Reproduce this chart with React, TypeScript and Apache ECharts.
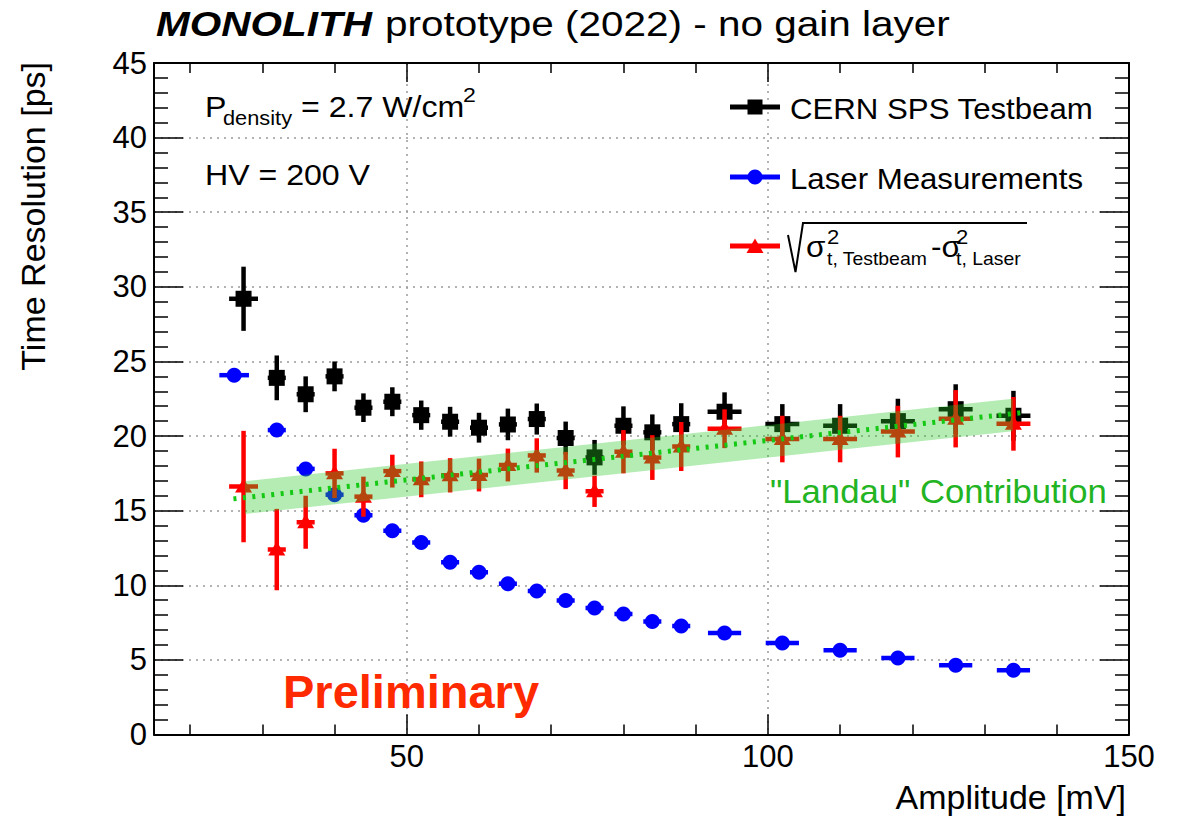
import React, { useEffect, useRef } from "react";
import * as echarts from "echarts";

const FONT = "Liberation Sans, Arial, Helvetica, sans-serif";

// CERN SPS testbeam: amplitude bin [mV], time resolution [ps] and errors
const beamAmp = [27.4, 32, 36, 40, 44, 48, 52, 56, 60, 64, 68, 72, 76, 80, 84, 88, 94, 102, 110, 118, 126, 134];
const beamAmpErr = [2.0, 1.25, 1.25, 1.25, 1.25, 1.25, 1.25, 1.25, 1.25, 1.25, 1.25, 1.25, 1.25, 1.25, 1.25, 1.25, 2.35, 2.35, 2.35, 2.35, 2.35, 2.35];
const beamRes = [29.2, 23.9, 22.8, 24.0, 21.9, 22.3, 21.4, 20.96, 20.56, 20.78, 21.14, 19.87, 18.57, 20.69, 20.25, 20.8, 21.63, 20.8, 20.69, 21.0, 21.8, 21.36];
const beamResErr = [2.15, 1.5, 1.2, 1.0, 0.96, 0.97, 0.98, 1.0, 1.0, 1.06, 1.04, 1.1, 1.17, 1.3, 1.2, 1.4, 1.3, 1.34, 1.45, 1.5, 1.67, 1.67];

// Laser measurements
const laserAmp = [26.1, 32, 36, 40, 44, 48, 52, 56, 60, 64, 68, 72, 76, 80, 84, 88, 94, 102, 110, 118, 126, 134];
const laserAmpErr = [2.05, 1.25, 1.25, 1.25, 1.25, 1.25, 1.25, 1.25, 1.25, 1.25, 1.25, 1.25, 1.25, 1.25, 1.25, 1.25, 2.3, 2.3, 2.3, 2.3, 2.3, 2.3];
const laserRes = [24.08, 20.4, 17.8, 16.07, 14.7, 13.65, 12.86, 11.55, 10.88, 10.1, 9.61, 8.98, 8.47, 8.07, 7.58, 7.27, 6.8, 6.13, 5.64, 5.13, 4.64, 4.3];
const laserResErr = [0, 0, 0, 0, 0, 0, 0, 0, 0, 0, 0, 0, 0, 0, 0, 0, 0, 0, 0, 0, 0, 0];

// Quadratic difference testbeam - laser
const diffAmp = [27.4, 32, 36, 40, 44, 48, 52, 56, 60, 64, 68, 72, 76, 80, 84, 88, 94, 102, 110, 118, 126, 134];
const diffAmpErr = [2.0, 1.25, 1.25, 1.25, 1.25, 1.25, 1.25, 1.25, 1.25, 1.25, 1.25, 1.25, 1.25, 1.25, 1.25, 1.25, 2.35, 2.35, 2.35, 2.35, 2.35, 2.35];
const diffRes = [16.62, 12.39, 14.22, 17.5, 15.94, 17.65, 17.1, 17.37, 17.39, 18.06, 18.7, 17.69, 16.3, 18.95, 18.56, 19.3, 20.49, 19.8, 19.8, 20.3, 21.16, 20.82];
const diffResErr = [3.73, 2.73, 1.78, 1.65, 1.34, 1.1, 1.2, 1.15, 1.1, 1.1, 1.15, 1.25, 1.05, 1.45, 1.5, 1.64, 1.3, 1.56, 1.56, 1.73, 1.92, 1.8];

// Linear "Landau" contribution and its uncertainty band
const fitAmp = [26, 135.8];
const fitRes = [15.79, 21.6];
const bandAmp = [27.6, 133.9];
const bandLow = [14.78, 20.32];
const bandHigh = [16.97, 22.5];

const xMajorTicks = [50, 100, 150];
const xMinorTicks = [20, 30, 40, 60, 70, 80, 90, 110, 120, 130, 140];

type Marker = "square" | "circle" | "triangle";

function markerShape(kind: Marker, cx: number, cy: number, color: string) {
  if (kind === "square") {
    return { type: "rect", shape: { x: cx - 8, y: cy - 8, width: 16, height: 16 }, style: { fill: color } };
  }
  if (kind === "circle") {
    return { type: "circle", shape: { cx, cy, r: 7.5 }, style: { fill: color } };
  }
  return {
    type: "polygon",
    shape: { points: [[cx, cy - 8], [cx - 8.5, cy + 6], [cx + 8.5, cy + 6]] },
    style: { fill: color },
  };
}

function errorSeries(name: string, xs: number[], exs: number[], ys: number[], eys: number[], color: string, marker: Marker, z: number) {
  return {
    type: "custom",
    name,
    z,
    clip: true,
    encode: { x: 0, y: 1 },
    data: xs.map((x, i) => [x, ys[i], exs[i], eys[i]]),
    renderItem: (params: any, api: any) => {
      const x = api.value(0);
      const y = api.value(1);
      const ex = api.value(2);
      const ey = api.value(3);
      const c = api.coord([x, y]);
      const l = api.coord([x - ex, y]);
      const r = api.coord([x + ex, y]);
      const t = api.coord([x, y + ey]);
      const b = api.coord([x, y - ey]);
      const children: any[] = [
        { type: "line", shape: { x1: l[0], y1: c[1], x2: r[0], y2: c[1] }, style: { stroke: color, lineWidth: 4.5 } },
      ];
      if (ey > 0) {
        children.push({ type: "line", shape: { x1: c[0], y1: t[1], x2: c[0], y2: b[1] }, style: { stroke: color, lineWidth: 4.5 } });
      }
      children.push(markerShape(marker, c[0], c[1], color));
      return { type: "group", children };
    },
  };
}

function txt(x: number, y: number, text: string, fontSize: number, extra: any = {}) {
  const { scaleX = 1, align = "left", weight = "normal", italic = false, color = "#000", rotation = 0 } = extra;
  return {
    type: "text",
    x,
    y,
    scaleX,
    rotation,
    z: 20,
    style: {
      text,
      fill: color,
      fontSize,
      fontFamily: FONT,
      fontWeight: weight,
      fontStyle: italic ? "italic" : "normal",
      align,
      textAlign: align,
      verticalAlign: "middle",
      textVerticalAlign: "middle",
    },
  };
}

function baseX(position: "top" | "bottom", ticks: number[], len: number, showLine: boolean, labels: boolean, split: boolean) {
  return {
    type: "value",
    min: 15,
    max: 150,
    position,
    axisLine: { show: showLine, onZero: false, lineStyle: { color: "#000", width: 2 } },
    axisTick: { show: true, inside: true, length: len, customValues: ticks, lineStyle: { color: "#000", width: 1.5 } },
    axisLabel: labels
      ? { show: true, customValues: ticks, fontSize: 31, color: "#000", margin: 6, fontFamily: FONT }
      : { show: false },
    splitLine: split ? { show: true, lineStyle: { color: "#9a9a9a", type: [2, 5], width: 1.5 } } : { show: false },
    minorTick: { show: false },
  };
}

function baseY(position: "left" | "right", labels: boolean) {
  return {
    type: "value",
    min: 0,
    max: 45,
    interval: 5,
    position,
    axisLine: { show: true, onZero: false, lineStyle: { color: "#000", width: 2 } },
    axisTick: { show: true, inside: true, length: 29, lineStyle: { color: "#000", width: 1.5 } },
    minorTick: { show: true, splitNumber: 5, length: 14, lineStyle: { color: "#000", width: 1.5 } },
    axisLabel: labels ? { show: true, fontSize: 31, color: "#000", margin: 7, fontFamily: FONT } : { show: false },
    splitLine: labels ? { show: true, lineStyle: { color: "#9a9a9a", type: [2, 5], width: 1.5 } } : { show: false },
  };
}

export default function App() {
  const ref = useRef<HTMLDivElement>(null);

  useEffect(() => {
    if (!ref.current) return;
    const chart = echarts.init(ref.current, null, { renderer: "svg" });

    const legendGraphics: any[] = [
      { type: "line", z: 20, shape: { x1: 730, y1: 107, x2: 780, y2: 107 }, style: { stroke: "#000", lineWidth: 5 } },
      { type: "rect", z: 20, shape: { x: 747.5, y: 99.5, width: 15, height: 15 }, style: { fill: "#000" } },
      { type: "line", z: 20, shape: { x1: 730, y1: 177, x2: 780, y2: 177 }, style: { stroke: "#0000ff", lineWidth: 5 } },
      { type: "circle", z: 20, shape: { cx: 755, cy: 177, r: 7.5 }, style: { fill: "#0000ff" } },
      { type: "line", z: 20, shape: { x1: 730, y1: 246, x2: 780, y2: 246 }, style: { stroke: "#ff0000", lineWidth: 5 } },
      { type: "polygon", z: 20, shape: { points: [[755, 238.5], [746.5, 253], [763.5, 253]] }, style: { fill: "#ff0000" } },
      txt(790, 109, "CERN SPS Testbeam", 29, { scaleX: 1.076 }),
      txt(790, 178.8, "Laser Measurements", 29, { scaleX: 1.076 }),
      {
        type: "polyline",
        z: 20,
        shape: { points: [[788, 235], [795.5, 272], [803, 223], [1027, 223]] },
        style: { stroke: "#000", lineWidth: 2, fill: null },
      },
      txt(806, 246.5, "σ", 30, { scaleX: 1.05 }),
      txt(827, 237.6, "2", 21, { scaleX: 1.05 }),
      txt(827, 258.4, "t, Testbeam", 19, { scaleX: 1.02 }),
      txt(931, 246.5, "-σ", 30, { scaleX: 1.05 }),
      txt(956, 237.6, "2", 21, { scaleX: 1.05 }),
      txt(956, 258.4, "t, Laser", 19, { scaleX: 1.02 }),
    ];

    const textGraphics: any[] = [
      txt(156, 23.4, "MONOLITH", 36, { scaleX: 1.125, weight: "bold", italic: true }),
      txt(385, 23.4, "prototype (2022) - no gain layer", 36, { scaleX: 1.125 }),
      txt(205, 106.5, "P", 29, { scaleX: 1.107 }),
      txt(223, 118, "density", 20, { scaleX: 1.09 }),
      txt(301, 106.5, "= 2.7 W/cm", 29, { scaleX: 1.107 }),
      txt(463, 95, "2", 21, { scaleX: 1.1 }),
      txt(205, 174.8, "HV = 200 V", 29, { scaleX: 1.107 }),
      txt(283, 691.5, "Preliminary", 47, { weight: "bold", color: "#ff2a00" }),
      txt(770, 490.8, "\"Landau\" Contribution", 34, { scaleX: 1.02, color: "#22b422" }),
      txt(1126, 797.5, "Amplitude [mV]", 33, { align: "right", scaleX: 1.03 }),
      txt(33, 62, "Time Resolution [ps]", 34, { align: "right", rotation: Math.PI / 2 }),
    ];

    const option: any = {
      animation: false,
      backgroundColor: "#fff",
      textStyle: { fontFamily: FONT },
      grid: { left: 154, right: 49, top: 63, bottom: 86.5, containLabel: false, outerBoundsMode: "none" },
      xAxis: [
        baseX("bottom", xMajorTicks, 20, true, true, true),
        baseX("bottom", xMinorTicks, 10, false, false, false),
        baseX("top", xMajorTicks, 19, true, false, false),
        baseX("top", xMinorTicks, 10, false, false, false),
      ],
      yAxis: [baseY("left", true), baseY("right", false)],
      series: [
        errorSeries("CERN SPS Testbeam", beamAmp, beamAmpErr, beamRes, beamResErr, "#000000", "square", 3),
        errorSeries("Laser Measurements", laserAmp, laserAmpErr, laserRes, laserResErr, "#0000ff", "circle", 4),
        errorSeries("Difference", diffAmp, diffAmpErr, diffRes, diffResErr, "#ff0000", "triangle", 5),
        {
          type: "custom",
          name: "Landau band",
          z: 6,
          clip: true,
          encode: { x: [0, 3], y: [1, 2, 4, 5] },
          data: [[bandAmp[0], bandLow[0], bandHigh[0], bandAmp[1], bandLow[1], bandHigh[1]]],
          renderItem: (params: any, api: any) => {
            const p1 = api.coord([api.value(0), api.value(2)]);
            const p2 = api.coord([api.value(3), api.value(5)]);
            const p3 = api.coord([api.value(3), api.value(4)]);
            const p4 = api.coord([api.value(0), api.value(1)]);
            return {
              type: "polygon",
              shape: { points: [p1, p2, p3, p4] },
              style: { fill: "rgba(40,200,40,0.35)" },
            };
          },
        },
        {
          type: "line",
          name: "Landau fit",
          z: 7,
          symbol: "none",
          data: fitAmp.map((x, i) => [x, fitRes[i]]),
          lineStyle: { color: "#14c814", width: 5, type: [3, 6.5], cap: "butt" },
        },
      ],
      graphic: { elements: [...legendGraphics, ...textGraphics] },
    };

    chart.setOption(option);
    return () => chart.dispose();
  }, []);

  return <div ref={ref} style={{ position: "absolute", left: 0, top: 0, width: 1178, height: 821 }} />;
}
